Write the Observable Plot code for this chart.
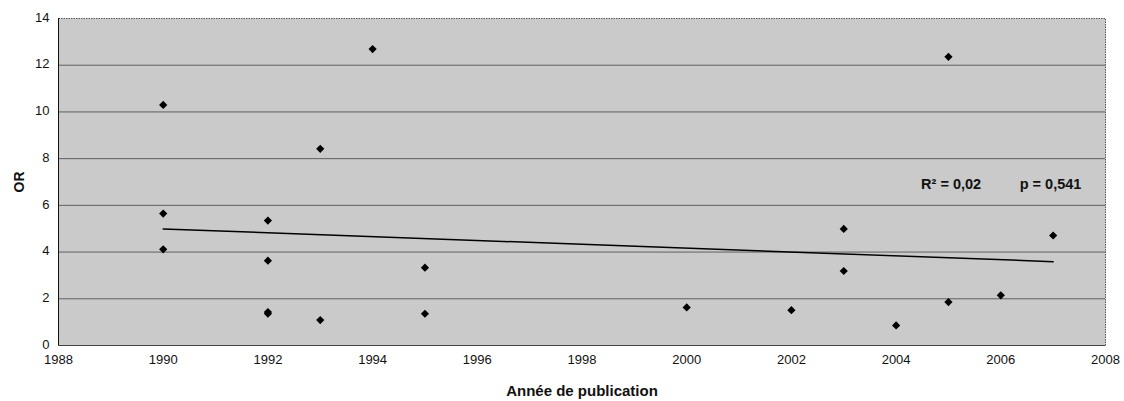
<!DOCTYPE html>
<html>
<head>
<meta charset="utf-8">
<script src="https://cdn.jsdelivr.net/npm/d3@7"></script>
<script src="https://cdn.jsdelivr.net/npm/@observablehq/plot@0.6"></script>
<style>
  html, body { margin: 0; padding: 0; background: #fff; }
  #chart svg { display: block; font-family: "Liberation Sans", Arial, sans-serif; }
</style>
</head>
<body>
<div id="chart"></div>
<script>
// Data
const years = [1990, 1990, 1990, 1992, 1992, 1992, 1992, 1993, 1993, 1994, 1995, 1995, 2000, 2002, 2003, 2003, 2004, 2005, 2005, 2006, 2007];
const orValues = [10.3, 5.65, 4.12, 5.35, 3.63, 1.43, 1.36, 8.42, 1.09, 12.69, 3.33, 1.36, 1.63, 1.51, 4.99, 3.19, 0.86, 12.36, 1.86, 2.15, 4.71];
const trendYears = [1990, 2007];
const trendValues = [4.99, 3.59];
const xTicks = [1988, 1990, 1992, 1994, 1996, 1998, 2000, 2002, 2004, 2006, 2008];
const yTicks = [0, 2, 4, 6, 8, 10, 12, 14];
const gridValues = [2, 4, 6, 8, 10, 12];
const annotations = ["R\u00B2 = 0,02", "p = 0,541"];
const annotationYears = [2005.05, 2006.95];
const annotationY = 6.9;

const points = years.map((y, i) => ({year: y, or: orValues[i]}));
const trend = trendYears.map((y, i) => ({year: y, or: trendValues[i]}));
const notes = annotations.map((t, i) => ({text: t, year: annotationYears[i], or: annotationY}));

const chart = Plot.plot({
  width: 1124,
  height: 401,
  marginLeft: 58,
  marginRight: 19,
  marginTop: 18,
  marginBottom: 56,
  style: {fontFamily: "Liberation Sans, Arial, sans-serif", fontSize: "13px", color: "#111", background: "#fff"},
  x: {domain: [1988, 2008]},
  y: {domain: [0, 14]},
  marks: [
    Plot.frame({fill: "#cacaca", stroke: "#555", strokeDasharray: "1.5,1"}),
    Plot.ruleY(gridValues, {stroke: "#444", strokeWidth: 0.8}),
    Plot.ruleX([1988], {stroke: "#111", strokeWidth: 1}),
    Plot.ruleY([0], {stroke: "#444", strokeWidth: 1}),
    Plot.axisX({ticks: xTicks, tickFormat: d => String(d), tickSize: 0, tickPadding: 9,
      label: "Année de publication", labelAnchor: "center", labelArrow: "none", labelOffset: 50}),
    Plot.axisY({ticks: yTicks, tickSize: 0, tickPadding: 9, dy: -1,
      label: "OR", labelAnchor: "center", labelArrow: "none", labelOffset: 44}),
    Plot.line(trend, {x: "year", y: "or", stroke: "#000", strokeWidth: 1.5}),
    Plot.dot(points, {x: "year", y: "or", symbol: "diamond2", r: 3.7, fill: "#000", stroke: "none"}),
    Plot.text(notes, {x: "year", y: "or", text: "text", fontWeight: "bold", fontSize: 14.5, fill: "#111"})
  ]
});
// bold axis labels
chart.querySelectorAll("g[aria-label='x-axis label'] text").forEach(t => {
  t.setAttribute("font-weight", "bold");
  t.setAttribute("font-size", "15px");
});
chart.querySelectorAll("g[aria-label='y-axis label'] text").forEach(t => {
  t.setAttribute("font-weight", "bold");
  t.setAttribute("font-size", "14px");
});
document.getElementById("chart").appendChild(chart);
</script>
</body>
</html>
